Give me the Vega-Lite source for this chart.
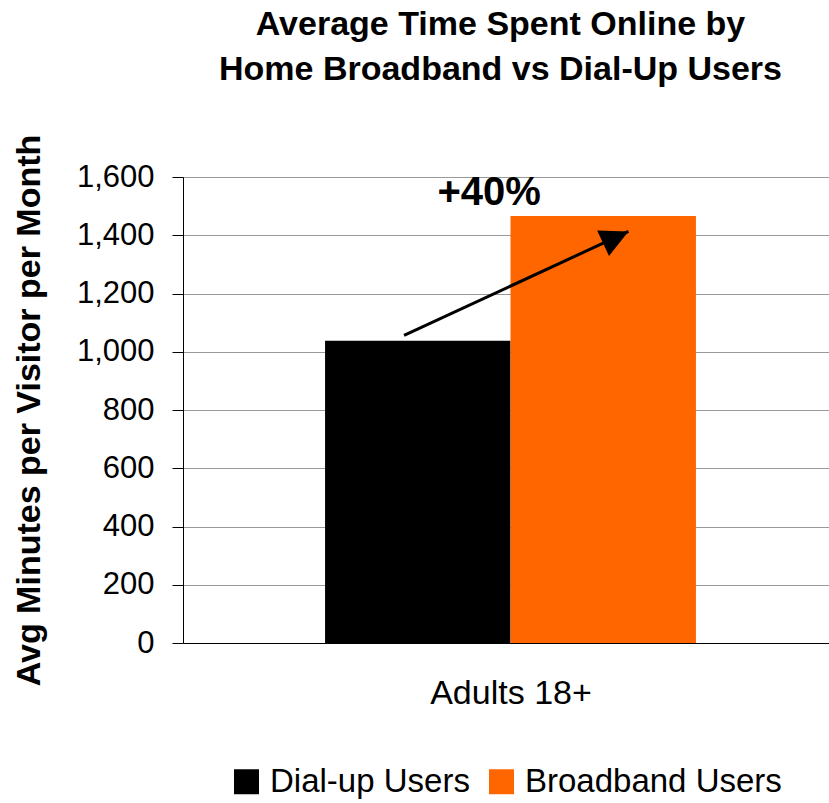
{
  "$schema": "https://vega.github.io/schema/vega-lite/v6.json",
  "width": 655,
  "height": 466,
  "autosize": "none",
  "padding": {"left": 183, "top": 177, "right": 0, "bottom": 160},
  "background": "white",
  "title": {
    "text": ["Average Time Spent Online by", "Home Broadband vs Dial-Up Users"],
    "font": "Liberation Sans",
    "fontSize": 34,
    "fontWeight": "bold",
    "color": "black",
    "lineHeight": 45,
    "anchor": "middle",
    "offset": 47,
    "dx": -10
  },
  "config": {"view": {"stroke": null}, "font": "Liberation Sans"},
  "datasets": {
    "bars": [
      {"group": "Adults 18+", "series": "Dial-up Users", "minutes": 1038},
      {"group": "Adults 18+", "series": "Broadband Users", "minutes": 1466}
    ],
    "arrow": [
      {"from": "Dial-up Users", "to": "Broadband Users", "start": 1056, "end": 1413}
    ],
    "label": [
      {"series": "Dial-up Users", "value": 1504, "text": "+40%"}
    ]
  },
  "layer": [
    {
      "data": {"name": "bars"},
      "mark": {"type": "bar", "strokeWidth": 0},
      "encoding": {
        "x": {
          "field": "series",
          "type": "nominal",
          "title": "Adults 18+",
          "scale": {"domain": ["Dial-up Users", "Broadband Users"], "paddingInner": 0, "paddingOuter": 0.766},
          "axis": {
            "labels": false,
            "ticks": false,
            "grid": false,
            "domainColor": "black",
            "titleFontSize": 34,
            "titleFontWeight": "normal",
            "titleColor": "black",
            "titlePadding": 33
          }
        },
        "y": {
          "field": "minutes",
          "type": "quantitative",
          "title": "Avg Minutes per Visitor per Month",
          "scale": {"domain": [0, 1600]},
          "axis": {
            "values": [0, 200, 400, 600, 800, 1000, 1200, 1400, 1600],
            "format": ",d",
            "labelFontSize": 31,
            "labelColor": "black",
            "labelPadding": 18,
            "tickSize": 11,
            "tickColor": "black",
            "domainColor": "black",
            "gridColor": "#999999",
            "titleFontSize": 34,
            "titleFontWeight": "bold",
            "titleColor": "black",
            "titlePadding": 30
          }
        },
        "color": {
          "field": "series",
          "type": "nominal",
          "scale": {"domain": ["Dial-up Users", "Broadband Users"], "range": ["#000000", "#FF6600"]},
          "legend": {
            "title": null,
            "orient": "none",
            "direction": "horizontal",
            "legendX": 47,
            "legendY": 588,
            "symbolType": "square",
            "symbolSize": 625,
            "symbolStrokeWidth": 0,
            "symbolOpacity": 1,
            "labelFontSize": 33,
            "labelColor": "black",
            "labelOffset": 7,
            "labelLimit": 400,
            "columnPadding": 15
          }
        }
      }
    },
    {
      "data": {"name": "arrow"},
      "mark": {"type": "rule", "color": "black", "strokeWidth": 3},
      "encoding": {
        "x": {"field": "from", "type": "nominal", "bandPosition": 0.426, "title": "Adults 18+"},
        "x2": {"field": "to", "bandPosition": 0.636},
        "y": {"field": "start", "type": "quantitative", "title": "Avg Minutes per Visitor per Month"},
        "y2": {"field": "end"}
      }
    },
    {
      "data": {"name": "arrow"},
      "mark": {"type": "point", "shape": "M0,0 L-0.5,1 L0.5,1 Z", "filled": true, "color": "black", "opacity": 1, "size": 3136, "angle": 65},
      "encoding": {
        "x": {"field": "to", "type": "nominal", "bandPosition": 0.636, "title": "Adults 18+"},
        "y": {"field": "end", "type": "quantitative", "title": "Avg Minutes per Visitor per Month"}
      }
    },
    {
      "data": {"name": "label"},
      "mark": {"type": "text", "font": "Liberation Sans", "fontSize": 40, "fontWeight": "bold", "color": "black", "align": "center", "baseline": "alphabetic"},
      "encoding": {
        "x": {"field": "series", "type": "nominal", "bandPosition": 0.885, "title": "Adults 18+"},
        "y": {"field": "value", "type": "quantitative", "title": "Avg Minutes per Visitor per Month"},
        "text": {"field": "text"}
      }
    }
  ]
}
